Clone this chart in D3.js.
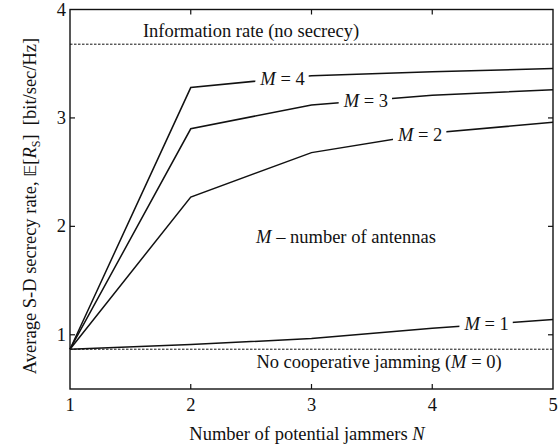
<!DOCTYPE html>
<html><head><meta charset="utf-8">
<script src="https://cdn.jsdelivr.net/npm/d3@7"></script>
<style>body{margin:0;background:#fff}svg{display:block}text{font-family:"Liberation Serif","Times New Roman",serif;fill:#111}</style>
</head><body><svg id="c" width="559" height="447"></svg>
<script>
const N = [1, 2, 3, 4, 5];
const M1 = [0.867, 0.91, 0.965, 1.06, 1.14];
const M2 = [0.867, 2.27, 2.68, 2.86, 2.96];
const M3 = [0.867, 2.90, 3.12, 3.21, 3.26];
const M4 = [0.867, 3.28, 3.39, 3.425, 3.455];
const infoRate = 3.68;
const noJamming = 0.867;
const xTicks = [1, 2, 3, 4, 5];
const yTicks = [1, 2, 3, 4];
const seriesNames = ["M = 1", "M = 2", "M = 3", "M = 4"];
const labelN = [4.45, 3.90, 3.45, 2.76];

const svg = d3.select("#c");
const L = 70, R = 553, T = 9.5, B = 389;
const x = d3.scaleLinear().domain([1, 5]).range([L, R]);
const y = d3.scaleLinear().domain([0.5, 4]).range([B, T]);
const fs = 18.5;

// ticks inward
const tl = 5;
const g = svg.append("g").attr("stroke", "#111").attr("stroke-width", 1.2);
xTicks.slice(1, -1).forEach(v => {
  g.append("line").attr("x1", x(v)).attr("x2", x(v)).attr("y1", B).attr("y2", B - tl);
  g.append("line").attr("x1", x(v)).attr("x2", x(v)).attr("y1", T).attr("y2", T + tl);
});
yTicks.slice(0, -1).forEach(v => {
  g.append("line").attr("x1", L).attr("x2", L + tl).attr("y1", y(v)).attr("y2", y(v));
  g.append("line").attr("x1", R).attr("x2", R - tl).attr("y1", y(v)).attr("y2", y(v));
});

// tick labels
svg.selectAll(".xt").data(xTicks).enter().append("text")
  .attr("x", d => x(d)).attr("y", 411).attr("text-anchor", "middle")
  .attr("font-size", fs).text(d => d);
svg.selectAll(".yt").data(yTicks).enter().append("text")
  .attr("x", 66).attr("y", d => y(d) + 6).attr("text-anchor", "end")
  .attr("font-size", fs).text(d => d);

// dashed reference lines
[infoRate, noJamming].forEach(v => {
  svg.append("line").attr("x1", L).attr("x2", R).attr("y1", y(v)).attr("y2", y(v))
    .attr("stroke", "#111").attr("stroke-width", 1).attr("stroke-dasharray", "2.5,1.5");
});

// series lines
const line = d3.line().x((d, i) => x(N[i])).y(d => y(d));
const series = [M1, M2, M3, M4];
series.forEach(s => {
  svg.append("path").attr("d", line(s)).attr("fill", "none")
    .attr("stroke", "#111").attr("stroke-width", 1.5).attr("stroke-linejoin", "miter");
});

// interpolate along polyline for label positions
function valAt(s, n) {
  const i = Math.min(Math.floor(n) - 1, N.length - 2);
  const t = n - N[i];
  return s[i] + (s[i + 1] - s[i]) * t / (N[i + 1] - N[i]);
}
series.forEach((s, k) => {
  const cx = x(labelN[k]), cy = y(valAt(s, labelN[k]));
  const lg = svg.append("g");
  const bg = lg.append("rect").attr("fill", "#fff");
  const t = lg.append("text").attr("x", cx).attr("y", cy + 6).attr("text-anchor", "middle")
    .attr("font-size", fs);
  t.append("tspan").attr("font-style", "italic").text("M");
  t.append("tspan").text(seriesNames[k].slice(1));
  const bb = t.node().getBBox();
  bg.attr("x", bb.x - 4).attr("y", bb.y + 2).attr("width", bb.width + 8)
    .attr("height", bb.height - 4);
});

// frame
svg.append("rect").attr("x", L).attr("y", T).attr("width", R - L).attr("height", B - T)
  .attr("fill", "none").attr("stroke", "#111").attr("stroke-width", 1.4);

// annotations
svg.append("text").attr("x", 251).attr("y", y(infoRate) - 7).attr("text-anchor", "middle")
  .attr("font-size", fs).text("Information rate (no secrecy)");
const nj = svg.append("text").attr("x", 379).attr("y", y(noJamming) + 19).attr("text-anchor", "middle")
  .attr("font-size", fs);
nj.append("tspan").text("No cooperative jamming (");
nj.append("tspan").attr("font-style", "italic").text("M");
nj.append("tspan").text(" = 0)");
const ma = svg.append("text").attr("x", 346).attr("y", 243).attr("text-anchor", "middle")
  .attr("font-size", fs);
ma.append("tspan").attr("font-style", "italic").text("M");
ma.append("tspan").text(" – number of antennas");

// axis labels
const xl = svg.append("text").attr("x", 307).attr("y", 440).attr("text-anchor", "middle")
  .attr("font-size", fs);
xl.append("tspan").text("Number of potential jammers ");
xl.append("tspan").attr("font-style", "italic").text("N");

const yl = svg.append("text").attr("transform", "translate(36,206) rotate(-90)")
  .attr("text-anchor", "middle").attr("font-size", fs);
yl.append("tspan").text("Average S-D secrecy rate, ");
yl.append("tspan").attr("font-family", "DejaVu Sans").attr("font-size", fs - 2).text("𝔼");
yl.append("tspan").text("[");
yl.append("tspan").attr("font-style", "italic").text("R");
yl.append("tspan").attr("font-size", fs * 0.65).attr("dy", 4).text("S");
yl.append("tspan").attr("dy", -4).text("]\u00a0\u00a0[bit/sec/Hz]");
</script></body></html>
